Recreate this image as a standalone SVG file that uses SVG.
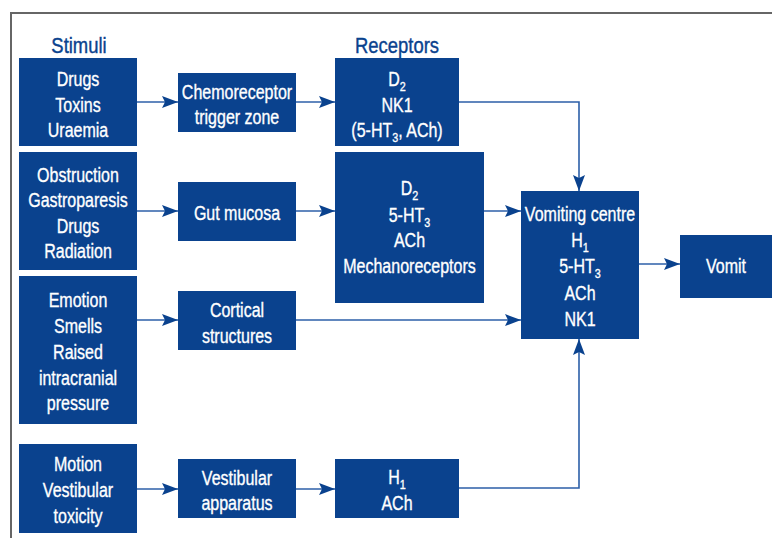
<svg xmlns="http://www.w3.org/2000/svg" width="772" height="538" viewBox="0 0 772 538">
<style>
.box{fill:#0a428e}
.t{font-family:"Liberation Sans",Arial,sans-serif;font-size:20px;fill:#fff;stroke:#fff;stroke-width:0.35;text-anchor:middle}
.h{font-family:"Liberation Sans",Arial,sans-serif;font-size:22.5px;fill:#0a428e;stroke:#0a428e;stroke-width:0.4;text-anchor:middle}
.sub{font-size:13.5px}
.c{fill:none;stroke:#2c5fa8;stroke-width:1.6}
.frame{fill:none;stroke:#666;stroke-width:2}
</style>
<defs>
<marker id="ah" markerUnits="userSpaceOnUse" markerWidth="16" markerHeight="12" refX="16" refY="6" orient="auto">
<path d="M0,0 L16,6 L0,12 L3,6 z" fill="#0a428e"/>
</marker>
</defs>
<rect width="772" height="538" fill="#fff"/>
<path class="frame" d="M11,538 V13 H772"/>

<g id="headers">
<text class="h" transform="translate(79,53) scale(0.82,1)">Stimuli</text>
<text class="h" transform="translate(397,53) scale(0.82,1)">Receptors</text>
</g>

<g id="connectors">
<path class="c" d="M137,102 H178" marker-end="url(#ah)"/>
<path class="c" d="M296,102 H335" marker-end="url(#ah)"/>
<path class="c" d="M459,102 H579 V191" marker-end="url(#ah)"/>
<path class="c" d="M137,211 H178" marker-end="url(#ah)"/>
<path class="c" d="M296,211 H335" marker-end="url(#ah)"/>
<path class="c" d="M484,211 H521" marker-end="url(#ah)"/>
<path class="c" d="M137,320 H178" marker-end="url(#ah)"/>
<path class="c" d="M296,320 H521" marker-end="url(#ah)"/>
<path class="c" d="M639,264 H680" marker-end="url(#ah)"/>
<path class="c" d="M137,489 H178" marker-end="url(#ah)"/>
<path class="c" d="M296,489 H335" marker-end="url(#ah)"/>
<path class="c" d="M459,488 H579 V339" marker-end="url(#ah)"/>
</g>

<g id="stim1">
<rect class="box" x="19" y="58" width="118" height="88"/>
<text class="t" transform="translate(78,0) scale(0.8,1)"><tspan x="0" y="86">Drugs</tspan><tspan x="0" y="112">Toxins</tspan><tspan x="0" y="137">Uraemia</tspan></text>
</g>
<g id="ctz">
<rect class="box" x="178" y="73" width="118" height="59"/>
<text class="t" transform="translate(237,0) scale(0.8,1)"><tspan x="0" y="99">Chemoreceptor</tspan><tspan x="0" y="124">trigger zone</tspan></text>
</g>
<g id="rec1">
<rect class="box" x="335" y="58" width="124" height="88"/>
<text class="t" transform="translate(397,0) scale(0.8,1)"><tspan x="0" y="86">D<tspan class="sub" dy="5">2</tspan></tspan><tspan x="0" y="112">NK1</tspan><tspan x="0" y="137">(5-HT<tspan class="sub" dy="5">3</tspan><tspan dy="-5">, ACh)</tspan></tspan></text>
</g>

<g id="stim2">
<rect class="box" x="19" y="152" width="118" height="118"/>
<text class="t" transform="translate(78,0) scale(0.8,1)"><tspan x="0" y="182">Obstruction</tspan><tspan x="0" y="207">Gastroparesis</tspan><tspan x="0" y="233">Drugs</tspan><tspan x="0" y="258">Radiation</tspan></text>
</g>
<g id="gut">
<rect class="box" x="178" y="182" width="118" height="59"/>
<text class="t" transform="translate(237,0) scale(0.8,1)"><tspan x="0" y="220">Gut mucosa</tspan></text>
</g>
<g id="rec2">
<rect class="box" x="335" y="152" width="149" height="151"/>
<text class="t" transform="translate(409.5,0) scale(0.8,1)"><tspan x="0" y="195">D<tspan class="sub" dy="5">2</tspan></tspan><tspan x="0" y="222">5-HT<tspan class="sub" dy="5">3</tspan></tspan><tspan x="0" y="247">ACh</tspan><tspan x="0" y="273">Mechanoreceptors</tspan></text>
</g>

<g id="vc">
<rect class="box" x="521" y="191" width="118" height="148"/>
<text class="t" transform="translate(580,0) scale(0.8,1)"><tspan x="0" y="221">Vomiting centre</tspan><tspan x="0" y="247">H<tspan class="sub" dy="5">1</tspan></tspan><tspan x="0" y="273">5-HT<tspan class="sub" dy="5">3</tspan></tspan><tspan x="0" y="300">ACh</tspan><tspan x="0" y="326">NK1</tspan></text>
</g>
<g id="vomit">
<rect class="box" x="680" y="235" width="92" height="63"/>
<text class="t" transform="translate(726,0) scale(0.8,1)"><tspan x="0" y="273">Vomit</tspan></text>
</g>

<g id="stim3">
<rect class="box" x="19" y="276" width="118" height="148"/>
<text class="t" transform="translate(78,0) scale(0.8,1)"><tspan x="0" y="307">Emotion</tspan><tspan x="0" y="333">Smells</tspan><tspan x="0" y="359">Raised</tspan><tspan x="0" y="385">intracranial</tspan><tspan x="0" y="410">pressure</tspan></text>
</g>
<g id="cortical">
<rect class="box" x="178" y="291" width="118" height="59"/>
<text class="t" transform="translate(237,0) scale(0.8,1)"><tspan x="0" y="317">Cortical</tspan><tspan x="0" y="343">structures</tspan></text>
</g>

<g id="stim4">
<rect class="box" x="19" y="444" width="118" height="89"/>
<text class="t" transform="translate(78,0) scale(0.8,1)"><tspan x="0" y="471">Motion</tspan><tspan x="0" y="497">Vestibular</tspan><tspan x="0" y="523">toxicity</tspan></text>
</g>
<g id="vest">
<rect class="box" x="178" y="459" width="118" height="59"/>
<text class="t" transform="translate(237,0) scale(0.8,1)"><tspan x="0" y="485">Vestibular</tspan><tspan x="0" y="510">apparatus</tspan></text>
</g>
<g id="rec4">
<rect class="box" x="335" y="459" width="124" height="59"/>
<text class="t" transform="translate(397,0) scale(0.8,1)"><tspan x="0" y="484">H<tspan class="sub" dy="5">1</tspan></tspan><tspan x="0" y="510">ACh</tspan></text>
</g>
</svg>
